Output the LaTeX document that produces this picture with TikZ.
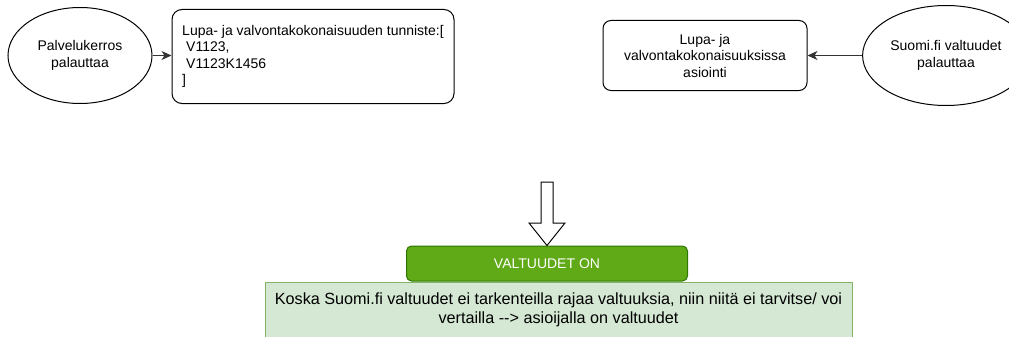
\documentclass[tikz,border=0pt]{standalone}
\usepackage{fontspec}
\setmainfont{Liberation Sans}
\usepackage{xcolor}
\usetikzlibrary{shapes.geometric, arrows.meta, positioning}

\definecolor{okgreen}{HTML}{60A917}
\definecolor{okgreendark}{HTML}{2D7600}
\definecolor{notefill}{HTML}{D5E8D4}
\definecolor{notedraw}{HTML}{82B366}

\begin{document}
\begin{tikzpicture}[
        x=1pt, y=-1pt,
        every node/.style={font=\fontsize{14}{16.5}\selectfont},
        oval/.style={ellipse, draw, line width=1pt, align=center},
        box/.style={rectangle, draw, rounded corners=10pt, line width=1pt},
        arrow/.style={-{Stealth[length=10pt, width=9pt, inset=3pt]}, line width=1pt, draw=black!80}
    ]
        \useasboundingbox (0,0) rectangle (1009,337);
        % yla rivi
        \node[oval, minimum width=144pt, minimum height=96pt] (palv) at (80,55.5) {Palvelukerros\\palauttaa};
        \node[box, minimum width=282pt, minimum height=94pt, align=left] (tunniste) at (313,56.5)
            {Lupa- ja valvontakokonaisuuden tunniste:[\\\hspace*{4pt}V1123,\\\hspace*{4pt}V1123K1456\\]};
        \node[box, rounded corners=8pt, minimum width=204pt, minimum height=70pt, align=center] (asiointi) at (705,55.5)
            {Lupa- ja\\valvontakokonaisuuksissa\\asiointi};
        \node[oval, minimum width=136pt, minimum height=100pt] (suomi) at (946,55.5) {Suomi.fi valtuudet\\palauttaa};
        \draw[arrow] (palv) -- (palv -| tunniste.west);
        \draw[arrow] (suomi) -- (asiointi);
        % tulos
        \node[rectangle, rounded corners=5pt, draw=okgreendark, fill=okgreen, text=white, line width=1pt,
            minimum width=281pt, minimum height=35pt] (valt) at (547,263.5) {VALTUUDET ON};
        \node[rectangle, draw=notedraw, fill=notefill, line width=1pt, minimum width=587pt, minimum height=55pt,
            align=center, font=\fontsize{16.2}{19}\selectfont, anchor=north] (selite) at (558.5,282)
            {Koska Suomi.fi valtuudet ei tarkenteilla rajaa valtuuksia, niin niitä ei tarvitse/ voi\\vertailla -{}-{}> asioijalla on valtuudet};
        \draw[line width=1pt, fill=white] (541,182) -- (553,182) -- (553,223) -- (565,223) -- (valt.north)
            -- (529,223) -- (541,223) -- cycle;
    \end{tikzpicture}
\end{document}
